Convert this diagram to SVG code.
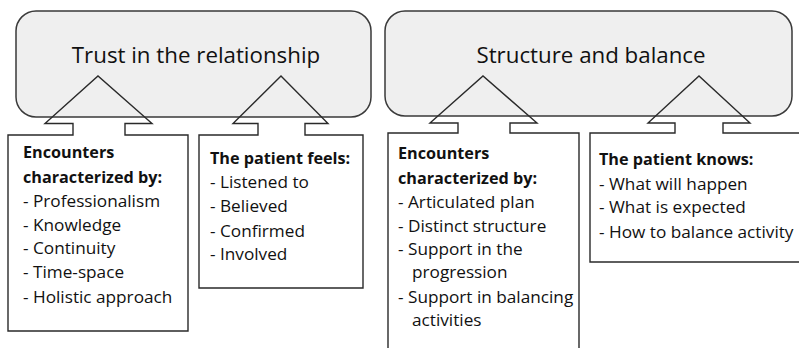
<svg xmlns="http://www.w3.org/2000/svg" width="799" height="348" viewBox="0 0 799 348">
  <style>
    .theme { fill: #efefef; stroke: #3a3a3a; stroke-width: 1.5; }
    .callout { fill: none; stroke: #2a2a2a; stroke-width: 1.4; stroke-linejoin: miter; }
    .title { font-family: "Open Sans", "Liberation Sans", sans-serif; font-size: 22.3px; fill: #111; text-anchor: middle; }
    .body { font-family: "Open Sans", "Liberation Sans", sans-serif; font-size: 17.2px; fill: #111; }
    .head { font-weight: bold; font-size: 16.2px; }
  </style>

  <!-- theme boxes -->
  <g id="trust">
    <rect class="theme" x="16" y="11" width="355" height="106" rx="20" ry="20"/>
    <text class="title" x="196" y="63">Trust in the relationship</text>
  </g>
  <g id="structure">
    <rect class="theme" x="385" y="11" width="407" height="105" rx="20" ry="20"/>
    <text class="title" x="591" y="63">Structure and balance</text>
  </g>

  <!-- callout boxes with arrow pointing into the theme above -->
  <g id="connectors">
    <path class="callout" d="M73,135 H8 V331 H188 V135 H125 V123.5 H152 L98,76 L45,123.5 H73 Z"/>
    <path class="callout" d="M258,135 H199 V288 H363 V135 H305 V123.5 H328 L281,76 L233,123.5 H258 Z"/>
    <path class="callout" d="M458,133 H388 V352 H579 V133 H510 V123 H537 L483,76 L430,123 H458 Z"/>
    <path class="callout" d="M675,133 H590 V262 H802 V133 H723 V123 H750 L699,76 L648,123 H675 Z"/>
  </g>

  <g id="encounters-trust">
    <text class="body">
      <tspan class="head" x="23" y="158">Encounters</tspan>
      <tspan class="head" x="23" y="183">characterized by:</tspan>
      <tspan x="23" y="207">- Professionalism</tspan>
      <tspan x="23" y="231">- Knowledge</tspan>
      <tspan x="23" y="254">- Continuity</tspan>
      <tspan x="23" y="278">- Time-space</tspan>
      <tspan x="23" y="303">- Holistic approach</tspan>
    </text>
  </g>

  <g id="patient-feels">
    <text class="body">
      <tspan class="head" x="210" y="164">The patient feels:</tspan>
      <tspan x="210" y="188">- Listened to</tspan>
      <tspan x="210" y="212">- Believed</tspan>
      <tspan x="210" y="237">- Confirmed</tspan>
      <tspan x="210" y="260">- Involved</tspan>
    </text>
  </g>

  <g id="encounters-structure">
    <text class="body">
      <tspan class="head" x="398" y="159">Encounters</tspan>
      <tspan class="head" x="398" y="184">characterized by:</tspan>
      <tspan x="398" y="208">- Articulated plan</tspan>
      <tspan x="398" y="232">- Distinct structure</tspan>
      <tspan x="398" y="255">- Support in the</tspan>
      <tspan x="412" y="278">progression</tspan>
      <tspan x="398" y="303">- Support in balancing</tspan>
      <tspan x="412" y="326">activities</tspan>
    </text>
  </g>

  <g id="patient-knows">
    <text class="body">
      <tspan class="head" x="599" y="165">The patient knows:</tspan>
      <tspan x="599" y="190">- What will happen</tspan>
      <tspan x="599" y="213">- What is expected</tspan>
      <tspan x="599" y="238">- How to balance activity</tspan>
    </text>
  </g>
</svg>
